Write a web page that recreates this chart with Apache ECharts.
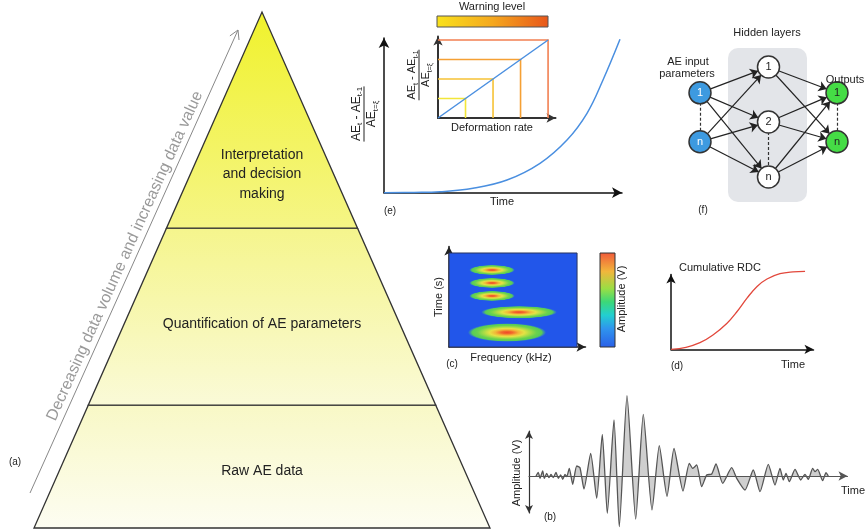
<!DOCTYPE html>
<html>
<head>
<meta charset="utf-8">
<script src="https://cdn.jsdelivr.net/npm/echarts@6/dist/echarts.min.js"></script>
<style>
  html, body { margin: 0; padding: 0; background: #fff; }
  #chart { width: 866px; height: 531px; }
</style>
</head>
<body>
<div id="chart"></div>
<script>
// ---------- data ----------
// (a) pyramid layers, bottom to top, with their relative height bounds
const pyramidLabels = ['Raw AE data', 'Quantification of AE parameters', 'Interpretation\nand decision\nmaking'];
const pyramidBounds = [0, 0.238, 0.581, 1];

// (e) normalised AE increment over time
const growthTime  = [0, 0.30, 0.56, 0.89, 1.23, 1.56, 1.83, 2.03, 2.19, 2.36];
const growthRatio = [0, 0.003, 0.01, 0.044, 0.127, 0.294, 0.527, 0.794, 1.127, 1.534];

// (e) inset: warning levels against deformation rate
const warningLevels = [1, 2, 3, 4];
const rateRange = [0, 4];

// (c) time-frequency energy blobs
const blobFreq       = [336, 336, 336, 547, 453];   // kHz
const blobTime       = [8.19, 6.81, 5.43, 3.70, 1.54];
const blobFreqSpread = [176, 176, 176, 293, 303];
const blobTimeSpread = [0.53, 0.53, 0.53, 0.66, 0.98];
const specFreqRange  = [0, 1000];
const specTimeRange  = [0, 10];

// (d) cumulative RDC
const rdcTime  = [0, 1.12, 2.16, 3.13, 4.18, 4.93, 5.67, 6.42, 7.16, 8.13, 9.10, 10];
const rdcValue = [0, 2.6, 8.5, 18.4, 33.5, 48.5, 65.7, 80.7, 90.2, 97.0, 99.4, 100];

// (b) raw AE waveform
const waveTime = [7, 9.3, 11, 13.7, 15.3, 17.7, 20, 22, 24.3, 27, 29.3, 31.7, 33.7, 36, 37.7,
  40.3, 43.7, 47.7, 51, 55, 61.7, 67.7, 73.3, 78.3, 85, 90.3, 98, 106.7, 114.3, 123, 130.3,
  138, 145, 154, 160.3, 163.7, 167.7, 172.7, 177.7, 182.7, 187, 193.7, 202.7, 207.7, 216,
  224.3, 231, 239.3, 246, 251, 254.3, 257, 260.3, 266, 271.7, 276, 279.3, 283.7, 286, 288.7,
  293.7, 297, 299.3];
const waveAmp = [0, 0.37, -0.23, 0.5, -0.23, 0.27, -0.17, 0.17, -0.17, 0.37, -0.23, 0.1, -0.33, 0.17, -0.07,
  0.77, -0.83, 1.0, 0.83, -1.3, 2.27, -2.23, 4.17, -3.73, 5.6, -5.07, 8.03, -4.3, 6.17, -3.4, 3.03,
  -2.03, 2.75, -1.5, 1.27, 0.77, 1.1, -1.07, 0.1, 0.2, 1.2, -0.73, 0.83, -0.23, -1.4,
  0.6, -1.57, 1.17, -0.9, 0.77, -0.4, 0.27, -0.57, 0.67, -0.4, 0.17, -0.33, 0.77, 0.43, 0.67,
  -0.47, 0.33, 0];

// (f) neural network
const netNodeIds    = ['in1', 'inN', 'h1', 'h2', 'hN', 'o1', 'oN'];
const netNodeLabels = ['1', 'n', '1', '2', 'n', '1', 'n'];
const netNodeLayer  = [0, 0, 1, 1, 1, 2, 2];
const netNodeRow    = [0.47, 1.36, 0, 1, 2, 0.47, 1.36];
const netLinks = [
  ['in1', 'h1'], ['in1', 'h2'], ['in1', 'hN'],
  ['inN', 'h1'], ['inN', 'h2'], ['inN', 'hN'],
  ['h1', 'o1'], ['h1', 'oN'], ['h2', 'o1'], ['h2', 'oN'], ['hN', 'o1'], ['hN', 'oN']
];
const netDashed = [['in1', 'inN'], ['h2', 'hN'], ['o1', 'oN']];

// ---------- styles ----------
const FONT = 'Liberation Sans, Arial, Helvetica, sans-serif';
const INK = '#222';
const pyramidFills = [
  ['#f8f8c6', '#fdfdf2'],
  ['#f5f58c', '#fafad8'],
  ['#f0f22c', '#f5f586']
];
const pyramidLabelAt = [0.46, 0.46, 0.25];
const levelColors = ['#f2e63a', '#f6c236', '#f5a034', '#f28052'];
const layerColors = ['#3d9ae0', '#ffffff', '#45dc45'];
const layerLabelColors = ['#ffffff', '#222', '#222'];
const blobStops = [
  { offset: 0, color: '#f04a28' },
  { offset: 0.14, color: '#f2682c' },
  { offset: 0.3, color: '#f0b838' },
  { offset: 0.45, color: '#e4e244' },
  { offset: 0.6, color: '#a8dc46' },
  { offset: 0.76, color: '#6ad24e' },
  { offset: 0.9, color: '#58cc56' },
  { offset: 1, color: 'rgba(60,150,170,0.25)' }
];

function hiddenAxis(gridIndex, min, max, extra) {
  return Object.assign({ gridIndex, type: 'value', min, max, show: false }, extra || {});
}
function arrowAxis(gridIndex, min, max, color, width, size, extra) {
  return Object.assign({
    gridIndex, type: 'value', min, max,
    axisLine: { show: true, onZero: false, symbol: ['none', 'arrow'], symbolSize: size,
      lineStyle: { color, width } },
    axisTick: { show: false }, axisLabel: { show: false }, splitLine: { show: false }
  }, extra || {});
}
function label(text, x, y, opts) {
  opts = opts || {};
  return {
    type: 'text', x, y, rotation: opts.rotation || 0, z: 10,
    style: { text, fill: opts.color || INK, fontSize: opts.size || 11, fontFamily: FONT,
      align: 'center', verticalAlign: 'middle', lineHeight: opts.lineHeight }
  };
}
function fraction(x, y, size) {
  const s = size;
  const rich = {
    n: { fontSize: s, fontFamily: FONT, fill: INK, lineHeight: s + 3 },
    s: { fontSize: Math.round(s * 0.68), fontFamily: FONT, fill: INK,
      lineHeight: Math.round(s * 0.68) + 1, verticalAlign: 'bottom' }
  };
  return {
    type: 'group', x, y, rotation: Math.PI / 2, z: 10,
    children: [
      { type: 'text', x: 0, y: -s * 0.62,
        style: { text: '{n|AE}{s|t}{n| - AE}{s|t-1}', rich, align: 'center', verticalAlign: 'middle' } },
      { type: 'line', shape: { x1: -s * 2.3, y1: 0, x2: s * 2.3, y2: 0 },
        style: { stroke: INK, lineWidth: 1 } },
      { type: 'text', x: 0, y: s * 0.66,
        style: { text: '{n|AE}{s|t=ξ}', rich, align: 'center', verticalAlign: 'middle' } }
    ]
  };
}

// ---------- chart ----------
const chart = echarts.init(document.getElementById('chart'), null, { renderer: 'canvas' });

const option = {
  backgroundColor: '#ffffff',
  animation: false,
  textStyle: { fontFamily: FONT },
  grid: [
    { left: 34, top: 12, width: 456, height: 516 },          // 0 pyramid
    { left: 384, top: 38, width: 238, height: 154.7 },      // 1 (e)
    { left: 438, top: 36.5, width: 117.5, height: 81.5 },   // 2 (e) inset
    { left: 449, top: 246.5, width: 136.5, height: 100.5 }, // 3 (c)
    { left: 671, top: 274.5, width: 142.5, height: 74.8 },  // 4 (d)
    { left: 529, top: 390, width: 318.5, height: 137 },     // 5 (b)
    { left: 529, top: 431, width: 10, height: 82 },         // 6 (b) amplitude axis
    { left: 700, top: 67, width: 137, height: 110 }         // 7 (f)
  ],
  xAxis: [
    hiddenAxis(0, -1, 1),
    arrowAxis(1, 0, 2.38, '#111', 1.5, [8, 10]),
    arrowAxis(2, 0, 4.27, '#333', 2, [7, 9]),
    arrowAxis(3, 0, 1066, '#222', 1.5, [7, 9]),
    arrowAxis(4, 0, 10.63, '#111', 1.5, [7, 9]),
    arrowAxis(5, 0, 318.5, '#555', 1.2, [7, 9], { z: 5,
      axisLine: { show: true, onZero: true, symbol: ['none', 'arrow'], symbolSize: [7, 9],
        lineStyle: { color: '#555', width: 1.2 } } }),
    hiddenAxis(6, 0, 1),
    hiddenAxis(7, 0, 2)
  ],
  yAxis: [
    hiddenAxis(0, 0, 1),
    arrowAxis(1, 0, 1.547, '#111', 1.5, [8, 10]),
    arrowAxis(2, 0, 4.18, '#333', 2, [7, 9]),
    arrowAxis(3, 0, 10.69, '#222', 1.5, [7, 9]),
    arrowAxis(4, 0, 96, '#111', 1.5, [7, 9]),
    hiddenAxis(5, -5.1, 8.6),
    arrowAxis(6, 0, 1, '#333', 1.2, [6, 8], {
      axisLine: { show: true, onZero: false, symbol: ['arrow', 'arrow'], symbolSize: [6, 8],
        lineStyle: { color: '#333', width: 1.2 } } }),
    hiddenAxis(7, 0, 2, { inverse: true })
  ],
  series: [
    // (a) pyramid
    {
      type: 'custom', xAxisIndex: 0, yAxisIndex: 0, clip: false,
      data: pyramidLabels.map((_, i) => [pyramidBounds[i], pyramidBounds[i + 1]]),
      renderItem(params, api) {
        const i = params.dataIndex;
        const lo = api.value(0), hi = api.value(1);
        const pts = [[-(1 - lo), lo], [1 - lo, lo], [1 - hi, hi], [-(1 - hi), hi]].map(p => api.coord(p));
        const ly = lo + pyramidLabelAt[i] * (hi - lo);
        const lp = api.coord([0, ly]);
        return {
          type: 'group',
          children: [
            { type: 'polygon', shape: { points: pts },
              style: { fill: new echarts.graphic.LinearGradient(0, 0, 0, 1, [
                { offset: 0, color: pyramidFills[i][0] }, { offset: 1, color: pyramidFills[i][1] }]),
                stroke: '#333', lineWidth: 1.3 } },
            { type: 'text', x: lp[0], y: lp[1],
              style: { text: pyramidLabels[i], fill: INK, fontSize: 14, fontFamily: FONT,
                align: 'center', verticalAlign: 'middle', lineHeight: 19.5 } }
          ]
        };
      }
    },
    // (e) growth curve
    {
      type: 'line', xAxisIndex: 1, yAxisIndex: 1, clip: false,
      data: growthTime.map((t, i) => [t, growthRatio[i]]),
      symbol: 'none', smooth: 0.4,
      lineStyle: { color: '#4a8fe0', width: 1.5 }
    },
    // (e) inset warning levels
    {
      type: 'custom', xAxisIndex: 2, yAxisIndex: 2, clip: false,
      data: warningLevels.map(l => [l]),
      renderItem(params, api) {
        const l = api.value(0);
        const pts = [[0, l], [l, l], [l, 0]].map(p => api.coord(p));
        return { type: 'polyline', shape: { points: pts },
          style: { stroke: levelColors[params.dataIndex], lineWidth: 1.6, fill: null } };
      }
    },
    {
      type: 'line', xAxisIndex: 2, yAxisIndex: 2, clip: false, z: 4,
      data: [[rateRange[0], rateRange[0]], [rateRange[1], rateRange[1]]],
      symbol: 'none', lineStyle: { color: '#4a8fe0', width: 1.5 }
    },
    // (c) spectrogram background
    {
      type: 'custom', xAxisIndex: 3, yAxisIndex: 3,
      data: [[specFreqRange[0], specTimeRange[0], specFreqRange[1], specTimeRange[1]]],
      renderItem(params, api) {
        const p0 = api.coord([api.value(0), api.value(3)]);
        const p1 = api.coord([api.value(2), api.value(1)]);
        return { type: 'rect', shape: { x: p0[0], y: p0[1], width: p1[0] - p0[0], height: p1[1] - p0[1] },
          style: { fill: '#2256ea', stroke: '#2a3560', lineWidth: 1 } };
      }
    },
    // (c) energy blobs
    {
      type: 'custom', xAxisIndex: 3, yAxisIndex: 3, z: 3,
      data: blobFreq.map((f, i) => [f, blobTime[i], blobFreqSpread[i], blobTimeSpread[i]]),
      renderItem(params, api) {
        const c = api.coord([api.value(0), api.value(1)]);
        const s = api.size([api.value(2), api.value(3)]);
        return {
          type: 'circle', x: c[0], y: c[1], scaleY: s[1] / s[0],
          shape: { cx: 0, cy: 0, r: s[0] },
          style: { fill: new echarts.graphic.RadialGradient(0.5, 0.5, 0.5, blobStops) }
        };
      }
    },
    // (d) cumulative RDC
    {
      type: 'line', xAxisIndex: 4, yAxisIndex: 4, clip: false,
      data: rdcTime.map((t, i) => [t, rdcValue[i]]),
      symbol: 'none', smooth: 0.4,
      lineStyle: { color: '#e2483c', width: 1.3 }
    },
    // (b) waveform
    {
      type: 'line', xAxisIndex: 5, yAxisIndex: 5, clip: false,
      data: waveTime.map((t, i) => [t, waveAmp[i]]),
      symbol: 'none', smooth: 0.2,
      lineStyle: { color: '#555', width: 1.3 },
      areaStyle: { color: '#cfcfcf', opacity: 1 }
    },
    // (f) network
    {
      type: 'graph', coordinateSystem: 'cartesian2d', xAxisIndex: 7, yAxisIndex: 7,
      symbolSize: 22, edgeSymbol: ['none', 'arrow'], edgeSymbolSize: 8,
      data: netNodeIds.map((id, i) => ({
        name: id, value: [netNodeLayer[i], netNodeRow[i]],
        itemStyle: { color: layerColors[netNodeLayer[i]], borderColor: '#333', borderWidth: 1.5 },
        label: { color: layerLabelColors[netNodeLayer[i]] }
      })),
      label: { show: true, position: 'inside', fontSize: 11, fontFamily: FONT,
        formatter: p => netNodeLabels[p.dataIndex] },
      lineStyle: { color: '#222', width: 1.2, opacity: 1, curveness: 0 },
      links: netLinks.map(([s, t]) => ({ source: s, target: t })).concat(
        netDashed.map(([s, t]) => ({ source: s, target: t, symbol: ['none', 'none'],
          lineStyle: { type: [3, 2], color: '#333', width: 1.2 } })))
    }
  ],
  graphic: [
    // data-value arrow beside the pyramid
    { type: 'polyline', z: 1, shape: { points: [[30, 493], [238, 30]] },
      style: { stroke: '#888', lineWidth: 1, fill: null } },
    { type: 'polyline', z: 1, shape: { points: [[229.9, 35.9], [238, 30], [239, 40]] },
      style: { stroke: '#888', lineWidth: 1, fill: null } },
    label('Decreasing data volume and increasing data value', 125, 256,
      { rotation: 1.148, size: 16, color: '#9a9a9a' }),
    label('(a)', 15, 462, { size: 10 }),

    // (e)
    { type: 'rect', z: 1, shape: { x: 437, y: 16, width: 111, height: 11 },
      style: { fill: new echarts.graphic.LinearGradient(0, 0, 1, 0, [
        { offset: 0, color: '#f9e21c' }, { offset: 0.5, color: '#f5a81e' }, { offset: 1, color: '#e8561a' }]),
        stroke: '#555', lineWidth: 1 } },
    label('Warning level', 492, 7),
    label('Deformation rate', 492, 128),
    label('Time', 502, 202),
    label('(e)', 390, 211, { size: 10 }),
    fraction(364, 114, 12),
    fraction(419, 75, 11),

    // (f)
    { type: 'rect', z: 0, shape: { x: 728, y: 48, width: 79, height: 154, r: 10 },
      style: { fill: '#e3e5e9' } },
    label('Hidden layers', 767, 33),
    label('AE input', 688, 62),
    label('parameters', 687, 74),
    label('Outputs', 845, 80),
    label('(f)', 703, 210, { size: 10 }),

    // (c)
    { type: 'rect', z: 1, shape: { x: 600, y: 253, width: 15, height: 94 },
      style: { fill: new echarts.graphic.LinearGradient(0, 0, 0, 1, [
        { offset: 0, color: '#f15a3a' }, { offset: 0.2, color: '#f1b63c' },
        { offset: 0.38, color: '#9ade44' }, { offset: 0.52, color: '#3cd878' },
        { offset: 0.66, color: '#22cfd0' }, { offset: 0.8, color: '#2f95ee' },
        { offset: 1, color: '#2a5fe8' }]),
        stroke: '#333', lineWidth: 1 } },
    label('Time (s)', 439, 297, { rotation: Math.PI / 2 }),
    label('Amplitude (V)', 622, 299, { rotation: Math.PI / 2 }),
    label('Frequency (kHz)', 511, 358),
    label('(c)', 452, 364, { size: 10 }),

    // (d)
    label('Cumulative RDC', 720, 268),
    label('Time', 793, 365),
    label('(d)', 677, 366, { size: 10 }),

    // (b)
    label('Amplitude (V)', 517, 473, { rotation: Math.PI / 2 }),
    label('Time', 853, 491),
    label('(b)', 550, 517, { size: 10 })
  ]
};

chart.setOption(option);
</script>
</body>
</html>
